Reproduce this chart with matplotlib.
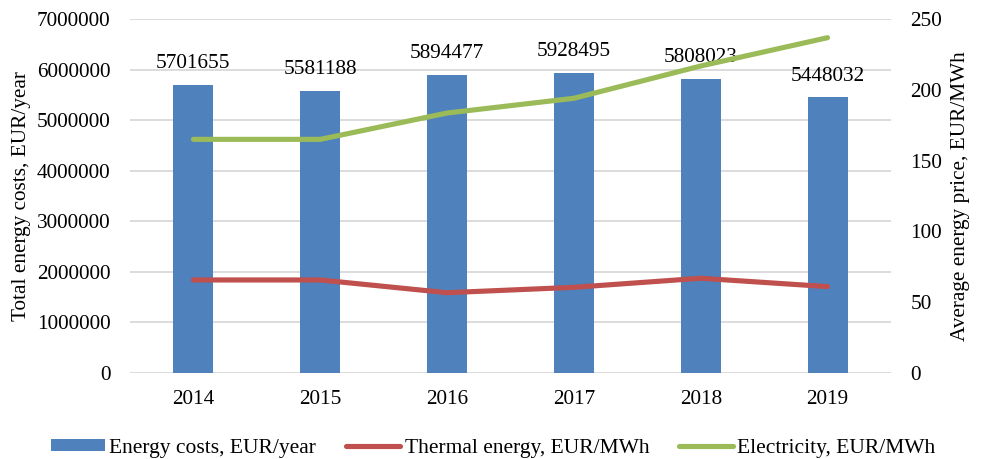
import numpy as np
import matplotlib
matplotlib.use("Agg")
import matplotlib.pyplot as plt

plt.rcParams['font.family'] = ['Liberation Serif', 'DejaVu Serif']

years = ["2014", "2015", "2016", "2017", "2018", "2019"]
energy_costs = [5701655, 5581188, 5894477, 5928495, 5808023, 5448032]
thermal_price = [65.7, 65.7, 56.7, 60.5, 66.9, 61.0]
electricity_price = [165.0, 165.0, 183.6, 194.0, 216.8, 236.8]

bar_color = "#4f81bd"
thermal_color = "#c0504d"
elec_color = "#9bbb59"
fs = 15.3

fig = plt.figure(figsize=(9.81, 4.59), dpi=100)
ax = fig.add_axes([0.1325, 0.1874, 0.7757, 0.7712])
ax2 = ax.twinx()

x = np.arange(len(years))
bars = ax.bar(x, energy_costs, width=0.315, color=bar_color, zorder=2,
              label="Energy costs, EUR/year")
for xi, v in zip(x, energy_costs):
  ax.annotate(f"{v}", (xi, v), xytext=(0, 8.5), textcoords="offset points",
              ha="center", va="bottom", fontsize=fs)

ax2.plot(x, thermal_price, color=thermal_color, lw=3.7, solid_capstyle="round",
         label="Thermal energy, EUR/MWh")
ax2.plot(x, electricity_price, color=elec_color, lw=3.7, solid_capstyle="round",
         label="Electricity, EUR/MWh")

ax.set_xlim(-0.5, len(years) - 0.5)
ax.set_ylim(0, 7000000)
ax.set_yticks(np.arange(0, 7000001, 1000000))
ax.set_yticklabels([str(v) for v in range(0, 7000001, 1000000)])
ax2.set_ylim(0, 250)
ax2.set_yticks(np.arange(0, 251, 50))
ax.set_xticks(x)
ax.set_xticklabels(years)

ax.grid(axis="y", color="#d9d9d9", lw=1.3, zorder=0)
ax.set_axisbelow(True)
for a in (ax, ax2):
  for s in a.spines.values():
    s.set_visible(False)
  a.tick_params(length=0, labelsize=fs)
ax.tick_params(axis="x", pad=12)
ax.tick_params(axis="y", pad=14)
ax2.tick_params(axis="y", pad=14)

ax.set_ylabel("Total energy costs, EUR/year", fontsize=fs, labelpad=4)
ax2.set_ylabel("Average energy price, EUR/MWh", fontsize=fs, labelpad=6)

h1, l1 = ax.get_legend_handles_labels()
h2, l2 = ax2.get_legend_handles_labels()
fig.legend(h1 + h2, l1 + l2, loc="lower center", bbox_to_anchor=(0.503, -0.04),
           ncol=3, frameon=False, fontsize=15.5, handlelength=2.5, handleheight=0.5,
           handletextpad=0.2, columnspacing=1.4)

fig.savefig("out.png", dpi=100)
